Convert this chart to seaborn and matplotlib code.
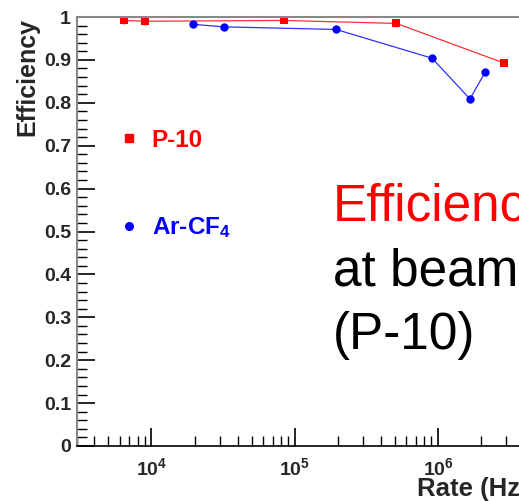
import numpy as np
import pandas as pd
import seaborn as sns
import matplotlib
matplotlib.use("Agg")
import matplotlib.pyplot as plt
from matplotlib.lines import Line2D
from matplotlib.ticker import FixedLocator, LogLocator, NullFormatter, MultipleLocator

# ---- data ----
p10_rate = [6440, 9080, 83800, 513000, 2870000]
p10_eff = [0.992, 0.990, 0.992, 0.985, 0.893]
p10_err = [0.008, 0.008, 0.004, 0.008, 0.003]

arcf4_rate = [19400, 32000, 194000, 908000, 1670000, 2130000]
arcf4_eff = [0.983, 0.977, 0.971, 0.904, 0.809, 0.871]
arcf4_err = [0.003, 0.003, 0.003, 0.004, 0.005, 0.004]

series_names = ["P-10", "Ar-CF$_4$"]
y_ticks = [0, 0.1, 0.2, 0.3, 0.4, 0.5, 0.6, 0.7, 0.8, 0.9, 1.0]
y_ticklabels = ["0", "0.1", "0.2", "0.3", "0.4", "0.5", "0.6", "0.7", "0.8", "0.9", "1"]
x_ticks = [1e4, 1e5, 1e6]
x_ticklabels = ["$10^{4}$", "$10^{5}$", "$10^{6}$"]

df = pd.DataFrame({
    "rate": p10_rate + arcf4_rate,
    "eff": p10_eff + arcf4_eff,
    "gas": [series_names[0]] * len(p10_rate) + [series_names[1]] * len(arcf4_rate),
})

sns.set_theme(style="white")
plt.rcParams["font.family"] = ["Liberation Sans", "DejaVu Sans"]
plt.rcParams["mathtext.fontset"] = "custom"
plt.rcParams["mathtext.bf"] = "Liberation Sans:bold"
plt.rcParams["mathtext.rm"] = "Liberation Sans"
plt.rcParams["mathtext.default"] = "bf"

W, H = 519, 501
fig = plt.figure(figsize=(W / 100, H / 100), dpi=100)
xmin, xmax = 3000, 1e7
px_per_dec = 143.3
ax_w_px = np.log10(xmax / xmin) * px_per_dec
ax = fig.add_axes([76.5 / W, 55 / H, ax_w_px / W, 429 / H])

palette = {series_names[0]: "#ff3030", series_names[1]: "#3030ff"}
sns.lineplot(data=df, x="rate", y="eff", hue="gas", style="gas",
             markers={series_names[0]: "s", series_names[1]: "o"},
             dashes=False, palette=palette, markersize=6, markeredgewidth=0,
             linewidth=0.9, ax=ax, legend=False, sort=True)
for ln, c in zip(ax.lines, ["#ff0000", "#0000ff"]):
    ln.set_markerfacecolor(c)
ax.errorbar(p10_rate, p10_eff, yerr=p10_err, fmt="none", ecolor="#ff0000", elinewidth=1, capsize=0)
ax.errorbar(arcf4_rate, arcf4_eff, yerr=arcf4_err, fmt="none", ecolor="#0000ff", elinewidth=1, capsize=0)

ax.set_xscale("log")
ax.set_xlim(xmin, xmax)
ax.set_ylim(0, 1)
ax.set_xlabel("")
ax.set_ylabel("")

ax.yaxis.set_major_locator(FixedLocator(y_ticks))
ax.set_yticklabels(y_ticklabels)
ax.yaxis.set_minor_locator(MultipleLocator(0.02))
ax.xaxis.set_major_locator(FixedLocator(x_ticks))
ax.set_xticklabels(x_ticklabels)
ax.xaxis.set_minor_locator(LogLocator(base=10, subs=np.arange(2, 10)))
ax.xaxis.set_minor_formatter(NullFormatter())

ax.tick_params(axis="both", which="major", direction="in", length=13, width=1.2,
               color="black", labelsize=14)
ax.tick_params(axis="both", which="minor", direction="in", length=7, width=1.0, color="black")
ax.tick_params(axis="y", which="both", left=True, right=False, pad=4)
ax.tick_params(axis="x", which="both", bottom=True, top=False, pad=8)
for lab in ax.get_yticklabels():
    lab.set_fontweight("bold")

ax.spines["left"].set_color("#888888")
ax.spines["left"].set_linewidth(1.5)
ax.spines["top"].set_color("#888888")
ax.spines["top"].set_linewidth(1.5)
ax.spines["bottom"].set_color("black")
ax.spines["bottom"].set_linewidth(1.2)
ax.spines["right"].set_visible(False)

# y label
fig.text(27 / W, 1 - 77 / H, "Efficiency", rotation=90, ha="center", va="center",
         fontsize=18, fontweight="bold")
# x label (partly outside the figure, as in the reference)
fig.text(417 / W, 1 - 489 / H, "Rate (Hz)", ha="left", va="center",
         fontsize=18.5, fontweight="bold")

# legend
handles = [
    Line2D([], [], linestyle="none", marker="s", color="#ff0000", markersize=5.5),
    Line2D([], [], linestyle="none", marker="o", color="#0000ff", markersize=5.5),
]
leg = ax.legend(handles, series_names, loc="upper left",
                bbox_to_anchor=(97 / W, 1 - 107 / H), bbox_transform=fig.transFigure,
                frameon=False, labelspacing=2.6, handlelength=0.8, handletextpad=0.55,
                prop={"weight": "bold", "size": 17.5})
for t, c in zip(leg.get_texts(), ["#ff0000", "#0000ff"]):
    t.set_color(c)

# annotation text
fig.text(333 / W, 1 - 221 / H, "Efficiency", color="#ff0000", fontsize=37, ha="left", va="baseline")
fig.text(333 / W, 1 - 285 / H, "at beam test", color="black", fontsize=37, ha="left", va="baseline")
fig.text(333 / W, 1 - 349 / H, "(P-10)", color="black", fontsize=37, ha="left", va="baseline")

fig.savefig("out.png", dpi=100)
